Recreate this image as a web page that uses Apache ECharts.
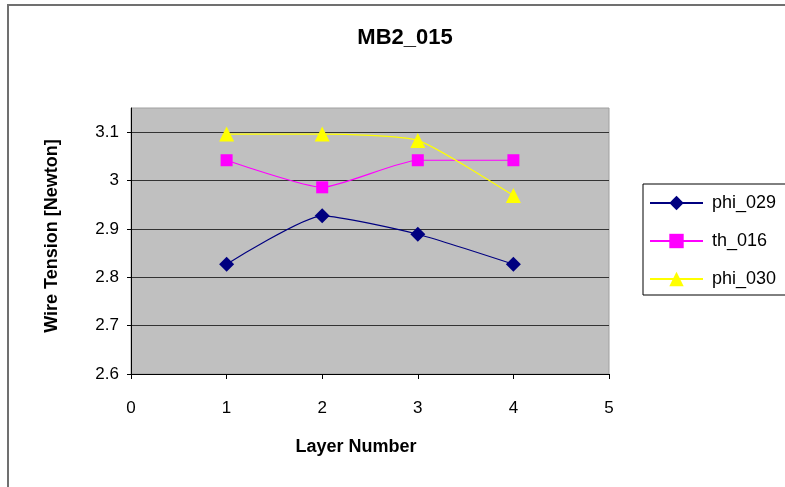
<!DOCTYPE html>
<html>
<head>
<meta charset="utf-8">
<style>
  html, body { margin: 0; padding: 0; background: #ffffff; }
  #chart { width: 785px; height: 487px; }
</style>
<script src="https://cdn.jsdelivr.net/npm/echarts@6/dist/echarts.min.js"></script>
</head>
<body>
<div id="chart"></div>
<script>
// Wire tension per layer for chamber MB2_015
const layers = [1, 2, 3, 4];
const phi029 = [2.827, 2.927, 2.889, 2.827];
const th016 = [3.042, 2.986, 3.042, 3.042];
const phi030 = [3.096, 3.096, 3.083, 2.969];
const seriesNames = ['phi_029', 'th_016', 'phi_030'];

const pairs = (ys) => layers.map((x, i) => [x, ys[i]]);
const FONT = 'Liberation Sans, Arial, sans-serif';

const chart = echarts.init(document.getElementById('chart'));
chart.setOption({
  backgroundColor: '#ffffff',
  animation: false,
  title: {
    text: 'MB2_015',
    left: 400,
    top: 22,
    textAlign: 'center',
    textStyle: { fontFamily: FONT, fontSize: 22, fontWeight: 'bold', color: '#000' }
  },
  graphic: [{
    type: 'rect',
    shape: { x: 8, y: 5, width: 800, height: 520 },
    style: { fill: 'none', stroke: '#707070', lineWidth: 2 },
    silent: true
  }],
  legend: {
    orient: 'vertical',
    left: 643,
    top: 184,
    itemWidth: 53,
    itemHeight: 18,
    itemGap: 20,
    padding: [10, 30, 7, 6],
    borderColor: '#000',
    borderWidth: 1,
    backgroundColor: '#fff',
    textStyle: { fontFamily: FONT, fontSize: 18, color: '#000', padding: [0, 0, 0, 4] },
    data: seriesNames
  },
  grid: {
    left: 131, right: 176, top: 108, bottom: 113,
    show: true,
    backgroundColor: '#C0C0C0',
    borderColor: '#a0a0a0',
    borderWidth: 1
  },
  xAxis: {
    type: 'value',
    min: 0, max: 5, interval: 1,
    name: 'Layer Number',
    nameLocation: 'middle',
    nameGap: 64,
    nameTextStyle: { fontFamily: FONT, fontSize: 18, fontWeight: 'bold', color: '#000', padding: [0, 28, 0, 0] },
    axisLine: { lineStyle: { color: '#000', width: 1 } },
    axisTick: { show: true, length: 5, inside: false, lineStyle: { color: '#000' } },
    axisLabel: { margin: 26, fontFamily: FONT, fontSize: 17, color: '#000' },
    splitLine: { show: false }
  },
  yAxis: {
    type: 'value',
    min: 2.6, max: 3.15, interval: 0.1,
    name: 'Wire Tension [Newton]',
    nameLocation: 'middle',
    nameGap: 70,
    nameTextStyle: { fontFamily: FONT, fontSize: 18, fontWeight: 'bold', color: '#000', padding: [0, 0, 0, 10] },
    axisLine: { show: true, lineStyle: { color: '#000', width: 1 } },
    axisTick: { show: true, length: 4, inside: false, lineStyle: { color: '#000' } },
    axisLabel: {
      margin: 12,
      fontFamily: FONT, fontSize: 17, color: '#000',
      showMaxLabel: false,
      formatter: (v) => (Math.abs(v - 3.15) < 1e-6 ? '' : String(Math.round(v * 10) / 10))
    },
    splitLine: { show: true, showMaxLine: false, lineStyle: { color: '#333', width: 1 } }
  },
  series: [
    {
      name: seriesNames[0], type: 'line', smooth: 0.18,
      data: pairs(phi029),
      symbol: 'diamond', symbolSize: 15,
      itemStyle: { color: '#000080' },
      lineStyle: { color: '#000080', width: 1.2 }
    },
    {
      name: seriesNames[1], type: 'line', smooth: 0.18,
      data: pairs(th016),
      symbol: 'rect', symbolSize: 12,
      itemStyle: { color: '#FF00FF' },
      lineStyle: { color: '#FF00FF', width: 1.2 }
    },
    {
      name: seriesNames[2], type: 'line', smooth: 0.18,
      data: pairs(phi030),
      symbol: 'triangle', symbolSize: 15,
      itemStyle: { color: '#FFFF00' },
      lineStyle: { color: '#FFFF00', width: 1.2 }
    }
  ]
});
</script>
</body>
</html>
